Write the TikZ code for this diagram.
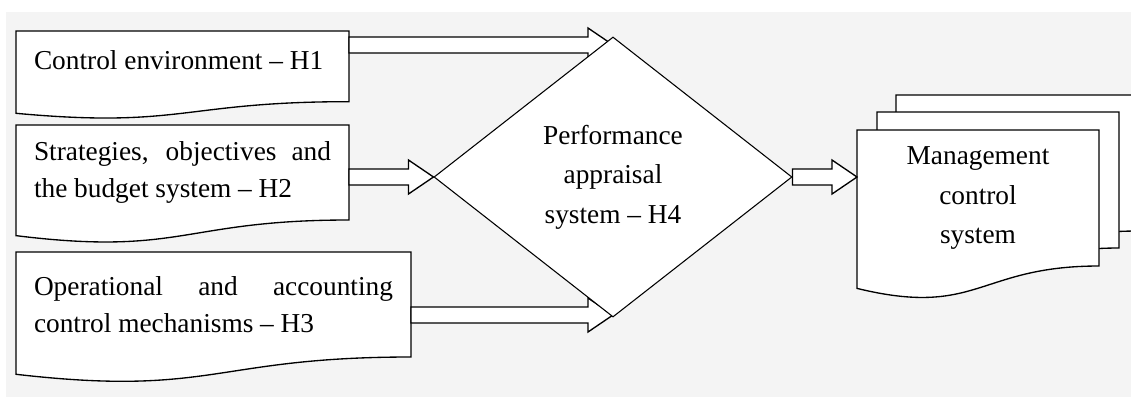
\documentclass[tikz,border=0pt]{standalone}
\usepackage{fontspec}
\setmainfont{Liberation Serif}
\usetikzlibrary{shapes.geometric,calc}

\definecolor{bggray}{RGB}{244,244,244}
\pgfdeclarelayer{under}
\pgfsetlayers{under,main}

\tikzset{
  docbox/.style={rectangle,anchor=north west,inner xsep=13.5pt,inner ysep=0pt,outer sep=0pt,
    align=justify,font=\fontsize{20.5}{27.75}\selectfont},
  stackbox/.style={rectangle,anchor=north west,inner sep=0pt,outer sep=0pt,
    minimum width=181.5pt,minimum height=102pt,align=center,font=\fontsize{20.5}{29.6}\selectfont},
  docline/.style={draw=black,fill=white,line width=1pt},
  arrowline/.style={draw=black,fill=white,line width=1pt,line join=miter},
  decision/.style={diamond,draw=black,fill=white,line width=0.8pt,inner sep=0pt,
    minimum width=268.5pt,minimum height=210pt,align=center,font=\fontsize{20.5}{29.6}\selectfont}
}

\newcommand{\docoutline}[1]{%
  \draw[docline] let \p1=(#1.north west), \p2=(#1.south east), \n1={\y1-\y2} in
    (\p1) -- (\x2,\y1) -- (\p2)
    .. controls ({(\x1+\x2)/2},\y2) and ({(\x1+\x2)/2},{\y2-0.3815*\n1}) ..
    (\x1,{\y2-0.1646*\n1}) -- cycle;}

\newcommand{\blockarrow}[2]{%
  \draw[arrowline] let \p1=(#1), \p2=(#2) in
    (\x1,\y1+6pt) -- (\x2-18.75pt,\y1+6pt) -- (\x2-18.75pt,\y1+12.75pt) -- (\x2,\y1)
    -- (\x2-18.75pt,\y1-12.75pt) -- (\x2-18.75pt,\y1-6pt) -- (\x1,\y1-6pt) -- cycle;}

\begin{document}
\begin{tikzpicture}[x=0.75pt,y=-0.75pt]

\useasboundingbox (0,0) rectangle (1131,397);

\node[docbox,text width=222.75pt,minimum height=53pt,text depth=9pt] (h1) at (16,31)
  {Control environment – H1};
\node[docbox,text width=222.75pt,minimum height=71.25pt] (h2) at (16,125)
  {Strategies, objectives and\linebreak the budget system – H2};
\node[docbox,text width=269.25pt,minimum height=78.75pt] (h3) at (16,252)
  {Operational and accounting\linebreak control mechanisms – H3};

\node[decision] (h4) at (613,177) {Performance\\appraisal\\system – H4};

\node[stackbox] (m3) at (896,95) {};
\node[stackbox] (m2) at (877,112) {};
\node[stackbox] (m1) at (857,130) {Management\\control\\system};

\coordinate (a1) at ($(h1.north east)+(0,14)$);
\coordinate (a2) at (h2.east |- h4.west);
\coordinate (a3) at ($(h3.north east)+(0,63)$);

\begin{pgfonlayer}{under}
\fill[bggray] (6,12) rectangle (1131,397);
\docoutline{h1}
\docoutline{h2}
\docoutline{h3}
\docoutline{m3}
\docoutline{m2}
\docoutline{m1}
\blockarrow{a1}{a1 -| h4.north}
\blockarrow{a2}{h4.west}
\blockarrow{a3}{a3 -| h4.south}
\blockarrow{h4.east}{m1.west |- h4.east}
\end{pgfonlayer}

\end{tikzpicture}
\end{document}
